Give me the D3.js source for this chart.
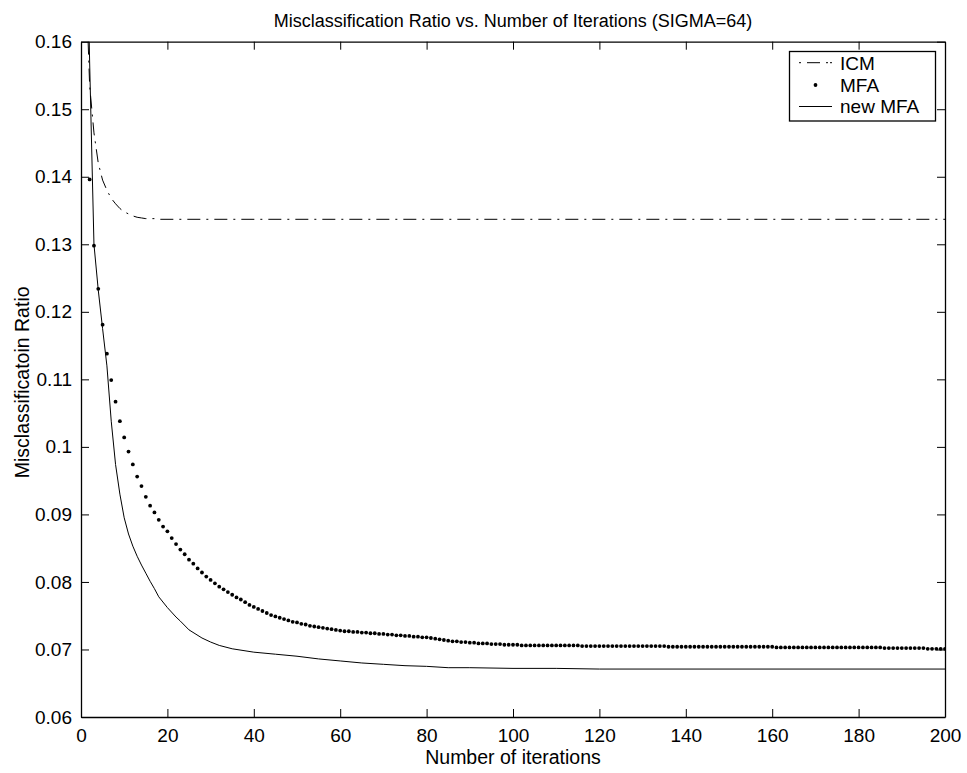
<!DOCTYPE html>
<html><head><meta charset="utf-8">
<script src="https://cdn.jsdelivr.net/npm/d3@7"></script>
<style>body{margin:0;background:#fff}svg text{font-family:"Liberation Sans",Arial,Helvetica,sans-serif;fill:#000}</style>
</head><body>
<svg id="c" width="967" height="773"></svg>
<script>
const titleText = "Misclassification Ratio vs. Number of Iterations (SIGMA=64)";
const xLabel = "Number of iterations";
const yLabel = "Misclassificatoin Ratio";
const xTicks = [0,20,40,60,80,100,120,140,160,180,200];
const yTicks = [0.06,0.07,0.08,0.09,0.1,0.11,0.12,0.13,0.14,0.15,0.16];
const seriesNames = ["ICM","MFA","new MFA"];

// ICM (dash-dot line)
const icmIter = [1,2,3,4,5,6,7,8,9,10,11,12,13,14,15,16,17,18,200];
const icmVal  = [0.172,0.1535,0.1465,0.1420,0.1395,0.1380,0.1368,0.1360,0.1353,0.1348,0.1345,0.1342,0.1340,0.1339,0.1338,0.1338,0.1338,0.1337,0.1337];

// MFA (dots, one per iteration 1..200)
const mfaVal = [
0.185,0.1396,0.1298,0.1234,0.1181,0.1138,0.1099,0.1067,0.1038,0.1014,
0.0993,0.0974,0.0956,0.0942,0.0926,0.0913,0.0903,0.0892,0.0882,0.0875,
0.0865,0.0856,0.0848,0.0841,0.0833,0.0827,0.0820,0.0814,0.0808,0.0803,
0.0798,0.0793,0.0789,0.0785,0.0781,0.0777,0.0774,0.0770,0.0766,0.0763,
0.0760,0.0757,0.0754,0.0751,0.0749,0.0747,0.0745,0.0743,0.0741,0.0740,
0.0738,0.0737,0.0735,0.0734,0.0733,0.0732,0.0731,0.0730,0.0729,0.0728,
0.0727,0.0727,0.0726,0.0726,0.0725,0.0725,0.0724,0.0724,0.0723,0.0723,
0.0722,0.0722,0.0721,0.0721,0.0720,0.0720,0.0719,0.0719,0.0718,0.0718,
0.0717,0.0716,0.0715,0.0714,0.0713,0.0712,0.0712,0.0711,0.0711,0.0710,
0.0710,0.0709,0.0709,0.0709,0.0708,0.0708,0.0708,0.0707,0.0707,0.0707,
0.0707,0.0706,0.0706,0.0706,0.0706,0.0706,0.0706,0.0706,0.0706,0.0706,
0.0706,0.0706,0.0706,0.0706,0.0706,0.0705,0.0705,0.0705,0.0705,0.0705,
0.0705,0.0705,0.0705,0.0705,0.0705,0.0705,0.0705,0.0705,0.0705,0.0705,
0.0705,0.0705,0.0705,0.0705,0.0705,0.0704,0.0704,0.0704,0.0704,0.0704,
0.0704,0.0704,0.0704,0.0704,0.0704,0.0704,0.0704,0.0704,0.0704,0.0704,
0.0704,0.0704,0.0704,0.0704,0.0704,0.0704,0.0704,0.0704,0.0704,0.0704,
0.0703,0.0703,0.0703,0.0703,0.0703,0.0703,0.0703,0.0703,0.0703,0.0703,
0.0703,0.0703,0.0703,0.0703,0.0703,0.0703,0.0703,0.0703,0.0703,0.0703,
0.0703,0.0703,0.0703,0.0703,0.0703,0.0702,0.0702,0.0702,0.0702,0.0702,
0.0702,0.0702,0.0702,0.0702,0.0702,0.0701,0.0701,0.0701,0.0701,0.0701
];

// new MFA (solid line)
const newIter = [1,2,3,4,5,6,7,8,9,10,11,12,13,14,15,16,17,18,20,22,23,25,28,30,32,35,40,45,50,55,60,65,70,75,80,85,90,100,110,120,200];
const newVal  = [0.19,0.157,0.1300,0.1232,0.1175,0.1120,0.1038,0.0974,0.0930,0.0895,0.0871,0.0853,0.0838,0.0825,0.0813,0.0801,0.0790,0.0778,0.0762,0.0748,0.0742,0.0729,0.0717,0.0711,0.0706,0.0701,0.0696,0.0693,0.0690,0.0686,0.0683,0.0680,0.0678,0.0676,0.0675,0.0673,0.0673,0.0672,0.0672,0.0671,0.0671];

const L = 81, R = 945, T = 41.7, B = 717;
const FS = 19;
const svg = d3.select("#c");

const x = d3.scaleLinear().domain([0,200]).range([L,R]);
const y = d3.scaleLinear().domain([0.06,0.16]).range([B,T]);

svg.append("defs").append("clipPath").attr("id","clip")
  .append("rect").attr("x",L).attr("y",T).attr("width",R-L).attr("height",B-T);

const fmtY = d => String(+d.toFixed(2));
const gBottom = svg.append("g").attr("transform",`translate(0,${B})`)
  .call(d3.axisBottom(x).tickValues(xTicks).tickSizeInner(-8).tickSizeOuter(0).tickPadding(12));
const gTop = svg.append("g").attr("transform",`translate(0,${T})`)
  .call(d3.axisTop(x).tickValues(xTicks).tickSizeInner(-8).tickSizeOuter(0).tickFormat(""));
const gLeft = svg.append("g").attr("transform",`translate(${L},0)`)
  .call(d3.axisLeft(y).tickValues(yTicks).tickSizeInner(-8).tickSizeOuter(0).tickPadding(9).tickFormat(fmtY));
const gRight = svg.append("g").attr("transform",`translate(${R},0)`)
  .call(d3.axisRight(y).tickValues(yTicks).tickSizeInner(-8).tickSizeOuter(0).tickFormat(""));
[gBottom,gTop,gLeft,gRight].forEach(g=>{
  g.select(".domain").attr("stroke","#000").attr("stroke-width",1.3);
  g.selectAll(".tick line").attr("stroke","#000").attr("stroke-width",1);
  g.selectAll("text").attr("font-size",FS).attr("font-family",null);
});
gBottom.selectAll(".tick text").attr("dy","0.71em");

const plot = svg.append("g").attr("clip-path","url(#clip)");

const icmData = icmIter.map((it,i)=>[it,icmVal[i]]);
plot.append("path").datum(icmData)
  .attr("fill","none").attr("stroke","#000").attr("stroke-width",1)
  .attr("stroke-dasharray","13,6,2,6")
  .attr("d", d3.line().x(d=>x(d[0])).y(d=>y(d[1])));

const newData = newIter.map((it,i)=>[it,newVal[i]]);
plot.append("path").datum(newData)
  .attr("fill","none").attr("stroke","#000").attr("stroke-width",1)
  .attr("d", d3.line().x(d=>x(d[0])).y(d=>y(d[1])));

const mfaData = mfaVal.map((v,i)=>[i+1,v]);
plot.selectAll("circle.mfa").data(mfaData).enter().append("circle")
  .attr("class","mfa").attr("cx",d=>x(d[0])).attr("cy",d=>y(d[1])).attr("r",1.9).attr("fill","#000");

svg.append("text").attr("x",(L+R)/2).attr("y",27).attr("text-anchor","middle").attr("font-size",18).text(titleText);
svg.append("text").attr("x",(L+R)/2).attr("y",764).attr("text-anchor","middle").attr("font-size",19.5).text(xLabel);
svg.append("text").attr("transform",`translate(29,${(T+B)/2+3}) rotate(-90)`).attr("text-anchor","middle").attr("font-size",19.5).text(yLabel);

const lg = svg.append("g");
const lx0 = 789.5, ly0 = 51.5, lw = 146, lh = 69.5;
lg.append("rect").attr("x",lx0).attr("y",ly0).attr("width",lw).attr("height",lh)
  .attr("fill","#fff").attr("stroke","#000").attr("stroke-width",1.3);
const rowY = [62.7, 85, 106.5];
const sx0 = 799, sx1 = 832;
lg.append("line").attr("x1",sx0).attr("x2",sx1).attr("y1",rowY[0]).attr("y2",rowY[0])
  .attr("stroke","#000").attr("stroke-dasharray","2,6,13,6,2");
lg.append("circle").attr("cx",(sx0+sx1)/2).attr("cy",rowY[1]).attr("r",1.9).attr("fill","#000");
lg.append("line").attr("x1",sx0).attr("x2",sx1).attr("y1",rowY[2]).attr("y2",rowY[2]).attr("stroke","#000");
seriesNames.forEach((n,i)=>{
  lg.append("text").attr("x",840).attr("y",rowY[i]).attr("dy","0.36em").attr("font-size",FS).text(n);
});
</script>
</body></html>
